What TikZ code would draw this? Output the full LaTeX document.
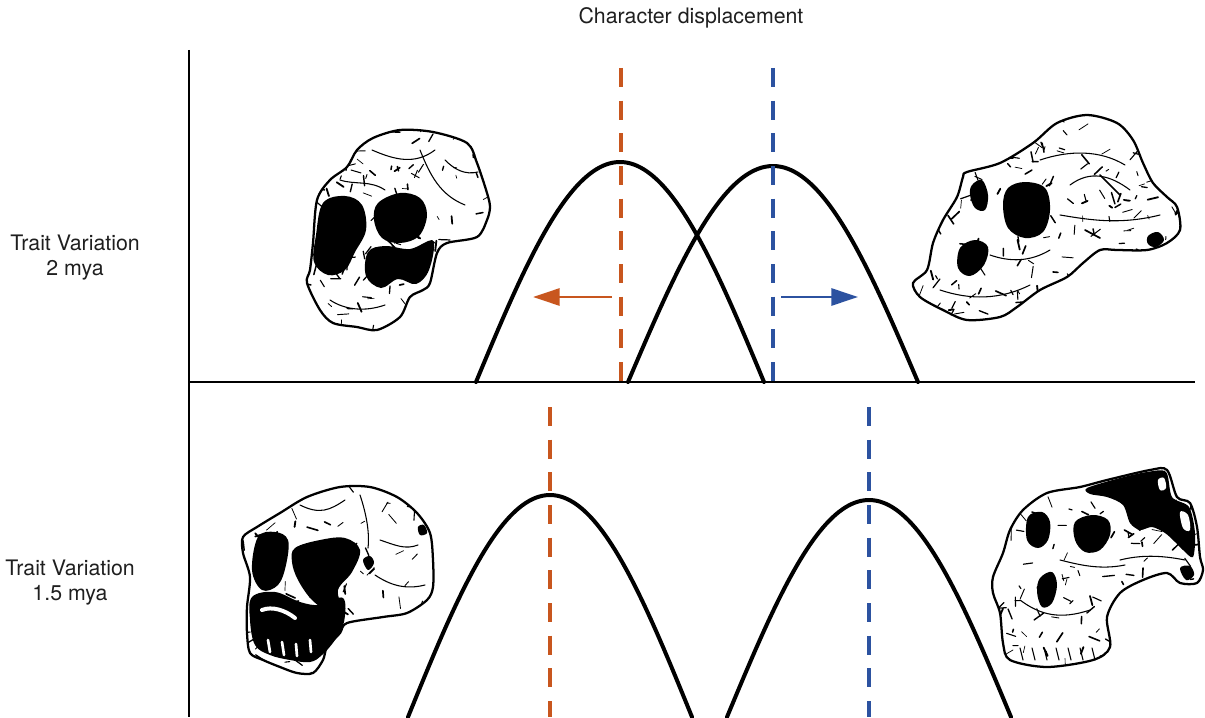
\documentclass[tikz,border=0pt]{standalone}
\usepackage{fontspec}
\setmainfont{TeX Gyre Heros}
\usetikzlibrary{arrows.meta}
\definecolor{rustc}{RGB}{200,86,30}
\definecolor{navyc}{RGB}{44,82,160}
\tikzset{
  distcurve/.style={line width=3pt, black, line cap=round},
  guideline/.style={line width=3pt, dash pattern=on 14.25pt off 10.25pt},
  shiftarrow/.style={line width=2.2pt, -{Triangle[length=20pt,width=12.75pt]}},
  axisline/.style={line width=1pt, black},
  rowlabel/.style={font=\fontsize{16}{18.75}\selectfont, align=center, text=black!88},
  bonefill/.style={fill=white},
  boneline/.style={draw=black, line width=1.7pt, line join=round},
  socket/.style={fill=black},
  crack/.style={line width=0.8pt, line cap=round, black},
  hatch/.style={line width=1.3pt, line cap=round, black},
}
% scattered engraving strokes inside a box: x0, y0, x1, y1, count
\newcommand\skulltexture[5]{%
  \foreach \i in {1,...,#5}{%
    \pgfmathsetmacro\px{#1+rnd*(#3-#1)}%
    \pgfmathsetmacro\py{#2+rnd*(#4-#2)}%
    \pgfmathsetmacro\ang{rnd*360}%
    \pgfmathsetmacro\len{3+rnd*9}%
    \pgfmathsetmacro\lw{0.5+rnd*0.9}%
    \draw[line width=\lw pt, line cap=round] (\px,\py) -- ++(\ang:\len);
  }}
\newcommand\outlineA{plot[smooth cycle, tension=0.5] coordinates {(357,150) (373,138) (400,130) (433,132) (467,143) (477,163) (487,193) (490,207) (487,220) (477,237) (447,243) (437,253) (430,283) (423,290) (410,297) (400,317) (377,330) (357,327) (333,323) (320,310) (307,283) (310,270) (313,243) (317,200) (330,180) (347,167)}}
\newcommand\outlineB{plot[smooth cycle, tension=0.5] coordinates {(967,172) (1000,163) (1033,143) (1057,123) (1087,115) (1117,123) (1133,140) (1143,163) (1153,183) (1167,197) (1177,207) (1180,230) (1167,243) (1147,250) (1117,250) (1100,250) (1083,263) (1067,277) (1040,290) (1017,307) (1000,317) (967,320) (943,310) (920,297) (913,283) (927,270) (933,243) (943,220) (957,197) (963,177)}}
\newcommand\outlineC{plot[smooth cycle, tension=0.5] coordinates {(243,537) (257,527) (280,513) (307,497) (340,487) (370,487) (397,497) (417,513) (430,533) (433,560) (433,587) (427,600) (407,613) (383,617) (347,623) (340,633) (327,647) (323,660) (313,673) (297,673) (280,667) (263,660) (250,653) (247,633) (247,607) (250,577) (243,553)}}
\newcommand\outlineD{plot[smooth cycle, tension=0.5] coordinates {(1023,510) (1047,493) (1080,487) (1107,480) (1150,470) (1167,470) (1177,497) (1190,503) (1197,527) (1200,557) (1203,570) (1197,583) (1180,583) (1167,573) (1143,580) (1120,593) (1107,617) (1110,647) (1093,660) (1047,667) (1010,660) (1003,643) (1000,613) (993,593) (993,577) (1003,553) (1010,530)}}
\begin{document}
\begin{tikzpicture}[x=0.75pt,y=-0.75pt]
\useasboundingbox (0,0) rectangle (1205,717);
\pgfmathsetseed{11}

% ---------- title and row labels ----------
\node[rowlabel] (title) at (691,18) {Character displacement};
\node[rowlabel] (rowtop) at (75,258) {Trait Variation\\2 mya};
\node[rowlabel] (rowbot) at (70,583) {Trait Variation\\1.5 mya};

% ---------- axes ----------
\coordinate (ytop) at (189,50);
\coordinate (ybot) at (189,717);
\coordinate (xleft) at (189,382);
\coordinate (xright) at (1195,382);
\draw[axisline] (ytop) -- (ybot);
\draw[axisline] (xleft) -- (xright);

% ---------- trait distributions, 2 mya ----------
\draw[distcurve] plot[domain=476:764, samples=90] (\x, {382-220*cos(90*(\x-620)/144)});
\draw[distcurve] plot[domain=628:918, samples=90] (\x, {382-216*cos(90*(\x-773)/145)});

% mean lines
\coordinate (mAtop) at (621,68);  \coordinate (mAbot) at (621,382);
\coordinate (mBtop) at (773,68);  \coordinate (mBbot) at (773,382);
\draw[guideline, rustc] (mAtop) -- (mAbot);
\draw[guideline, navyc] (mBtop) -- (mBbot);

% direction of displacement
\coordinate (aLs) at (612,297); \coordinate (aLe) at (533,297);
\coordinate (aRs) at (781,297); \coordinate (aRe) at (858,297);
\draw[shiftarrow, rustc] (aLs) -- (aLe);
\draw[shiftarrow, navyc] (aRs) -- (aRe);

% ---------- trait distributions, 1.5 mya ----------
\draw[distcurve] plot[domain=408:692, samples=90] (\x, {717-222*cos(90*(\x-550)/142)});
\draw[distcurve] plot[domain=727:1011, samples=90] (\x, {717-217*cos(90*(\x-869)/142)});

\coordinate (mCtop) at (550,407);  \coordinate (mCbot) at (550,717);
\coordinate (mDtop) at (869,407);  \coordinate (mDbot) at (869,717);
\draw[guideline, rustc] (mCtop) -- (mCbot);
\draw[guideline, navyc] (mDtop) -- (mDbot);

% ---------- skull, upper left ----------
\fill[bonefill] \outlineA;
\begin{scope}
  \clip \outlineA;
  \skulltexture{305}{128}{492}{332}{150}
\end{scope}
\fill[socket] plot[smooth cycle, tension=0.6] coordinates {(323,203) (345,196) (362,205) (366,230) (355,252) (345,270) (328,275) (314,262) (316,235)};
\fill[socket] plot[smooth cycle, tension=0.6] coordinates {(378,203) (400,193) (420,198) (427,215) (419,236) (400,243) (382,238) (374,220)};
\fill[socket] plot[smooth cycle, tension=0.6] coordinates {(368,252) (385,246) (410,249) (433,241) (429,270) (416,284) (398,279) (381,288) (366,276)};
\draw[crack] (372,150) .. controls (395,160) and (415,165) .. (435,150);
\draw[crack] (420,150) .. controls (430,175) and (440,195) .. (465,205);
\draw[crack] (445,160) .. controls (455,170) and (465,175) .. (478,172);
\draw[crack] (340,180) .. controls (355,185) and (370,180) .. (385,190);
\draw[crack] (330,300) .. controls (345,310) and (365,312) .. (385,305);
\draw[boneline] \outlineA;

% ---------- skull, upper right ----------
\fill[bonefill] \outlineB;
\begin{scope}
  \clip \outlineB;
  \skulltexture{910}{113}{1182}{322}{190}
\end{scope}
\fill[socket] plot[smooth cycle, tension=0.6] coordinates {(1008,188) (1025,182) (1045,188) (1050,210) (1043,232) (1025,238) (1008,228) (1003,205)};
\fill[socket] plot[smooth cycle, tension=0.6] coordinates {(972,185) (982,180) (988,195) (985,210) (975,208) (970,195)};
\fill[socket] plot[smooth cycle, tension=0.6] coordinates {(960,248) (975,240) (988,247) (984,265) (970,276) (958,268)};
\fill[socket] plot[smooth cycle, tension=0.6] coordinates {(1148,236) (1158,232) (1164,240) (1156,247) (1148,244)};
\draw[crack] (1040,160) .. controls (1070,150) and (1100,150) .. (1125,165);
\draw[crack] (1070,185) .. controls (1090,170) and (1110,175) .. (1130,190);
\draw[crack] (1060,215) .. controls (1090,220) and (1120,225) .. (1160,215);
\draw[crack] (940,290) .. controls (970,300) and (1000,300) .. (1030,285);
\draw[crack] (990,255) .. controls (1010,262) and (1030,262) .. (1050,250);
\draw[hatch] (1100,175) -- (1120,195);
\draw[hatch] (1085,230) -- (1100,238);
\draw[boneline] \outlineB;

% ---------- skull, lower left ----------
\fill[bonefill] \outlineC;
\begin{scope}
  \clip \outlineC;
  \skulltexture{240}{485}{435}{675}{100}
\end{scope}
\fill[socket] plot[smooth cycle, tension=0.6] coordinates {(258,537) (275,532) (288,540) (286,565) (278,585) (262,590) (252,570)};
\fill[socket] plot[smooth cycle, tension=0.6] coordinates {(295,548) (320,540) (345,538) (360,550) (352,572) (338,590) (342,610) (330,612) (312,600) (298,580) (292,562)};
\fill[socket] plot[smooth cycle, tension=0.6] coordinates {(252,597) (275,592) (300,602) (320,605) (343,598) (344,622) (335,640) (322,655) (310,662) (290,660) (270,655) (255,645) (250,620)};
\draw[white, line width=2pt, line cap=round] (268,640) -- (270,652) (282,642) -- (284,655) (296,644) -- (297,656) (310,640) -- (311,652);
\draw[white, line width=3pt, line cap=round] (262,610) .. controls (272,606) and (285,610) .. (295,618);
\draw[crack] (300,505) .. controls (320,515) and (330,510) .. (345,500);
\draw[crack] (360,495) .. controls (365,510) and (370,530) .. (368,548);
\draw[crack] (380,540) .. controls (395,545) and (405,550) .. (418,545);
\draw[crack] (375,575) .. controls (390,585) and (405,590) .. (425,585);
\fill[socket] plot[smooth cycle, tension=0.6] coordinates {(363,560) (370,556) (374,563) (368,570)};
\fill[socket] plot[smooth cycle, tension=0.6] coordinates {(418,527) (424,525) (427,533) (420,535)};
\draw[boneline] \outlineC;

% ---------- skull, lower right ----------
\fill[bonefill] \outlineD;
\begin{scope}
  \clip \outlineD;
  \skulltexture{990}{468}{1205}{668}{150}
\end{scope}
\fill[socket] plot[smooth cycle, tension=0.5] coordinates {(1087,488) (1120,478) (1147,472) (1166,472) (1172,497) (1189,507) (1195,533) (1193,557) (1183,550) (1175,542) (1165,533) (1152,527) (1140,530) (1130,523) (1123,505) (1107,497) (1090,494)};
\fill[white] plot[smooth cycle, tension=0.6] coordinates {(1158,480) (1164,478) (1166,488) (1160,490)};
\fill[white] plot[smooth cycle, tension=0.6] coordinates {(1180,512) (1188,515) (1190,530) (1183,528)};
\fill[socket] plot[smooth cycle, tension=0.6] coordinates {(1028,517) (1042,512) (1050,522) (1048,540) (1038,548) (1027,540)};
\fill[socket] plot[smooth cycle, tension=0.6] coordinates {(1075,522) (1092,515) (1108,520) (1110,535) (1100,550) (1085,552) (1075,540)};
\fill[socket] plot[smooth cycle, tension=0.6] coordinates {(1040,578) (1052,572) (1057,585) (1052,603) (1042,607) (1037,592)};
\fill[socket] plot[smooth cycle, tension=0.6] coordinates {(1180,568) (1190,566) (1194,575) (1186,580)};
\draw[crack] (1020,600) .. controls (1040,615) and (1060,620) .. (1090,610);
\draw[crack] (1060,560) .. controls (1080,565) and (1100,570) .. (1125,565);
\draw[crack] (1120,560) .. controls (1140,555) and (1160,555) .. (1185,560);
\foreach \t in {1020,1032,1044,1056,1068,1080,1092}
  \draw[crack] (\t,648) -- (\t+3,660);
\draw[boneline] \outlineD;
\end{tikzpicture}
\end{document}
